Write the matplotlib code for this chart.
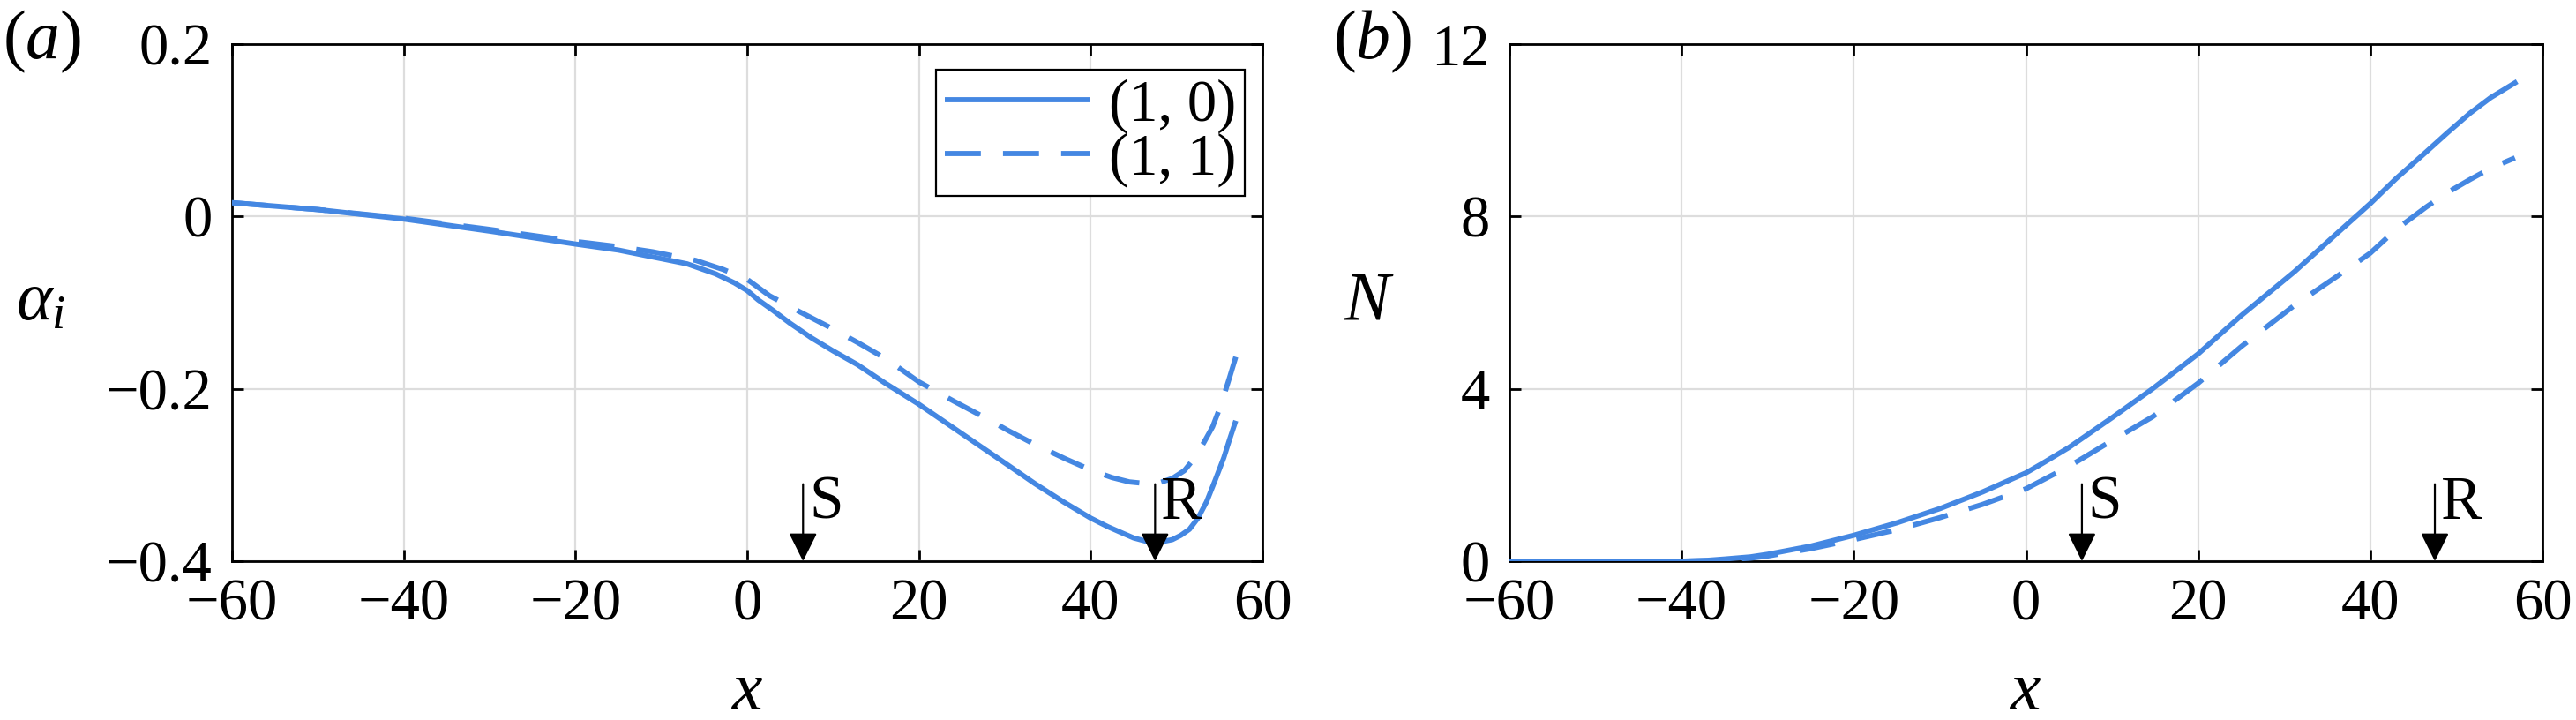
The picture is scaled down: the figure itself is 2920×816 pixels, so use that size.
import matplotlib
matplotlib.use("Agg")
import matplotlib.pyplot as plt

plt.rcParams['font.family'] = ['Liberation Serif', 'DejaVu Serif']
plt.rcParams['mathtext.fontset'] = 'custom'
plt.rcParams['mathtext.rm'] = 'Liberation Serif'
plt.rcParams['mathtext.it'] = 'Liberation Serif:italic'
plt.rcParams['mathtext.bf'] = 'Liberation Serif:bold'

# ---- data: panel (a) growth rate alpha_i ----
x_a10 = [-60, -50, -40, -30, -20, -15, -11, -7, -3.7, -1.5, 0, 1.3, 3, 5, 7.5, 10, 12.85, 16, 20,
         25, 30, 33.5, 36.8, 40, 42, 43.6, 45, 46.5, 48, 49.5, 50.5, 51.5, 52.5, 53.5, 54.5,
         55.5, 56.2, 56.9]
alpha_10 = [0.016, 0.008, -0.003, -0.017, -0.032, -0.039, -0.047, -0.055, -0.0665, -0.077,
            -0.086, -0.097, -0.109, -0.124, -0.141, -0.156, -0.172, -0.193, -0.218,
            -0.252, -0.286, -0.310, -0.331, -0.350, -0.360, -0.367, -0.373, -0.377, -0.378,
            -0.375, -0.370, -0.363, -0.350, -0.331, -0.306, -0.280, -0.258, -0.237]
x_a11 = [-60, -50, -40, -30, -20, -15, -11, -6, -2.8, 0, 2.6, 6, 9.5, 13, 16.3, 20, 24, 27.6,
         30.5, 33.4, 37, 40.2, 42.5, 44.5, 46.5, 48, 49.5, 50.9, 52.2, 53.2, 54.2, 55.2,
         56.2, 56.9]
alpha_11 = [0.016, 0.008, -0.002, -0.015, -0.029, -0.035, -0.041, -0.051, -0.0615, -0.073,
            -0.092, -0.110, -0.128, -0.147, -0.166, -0.192, -0.214, -0.233,
            -0.249, -0.264, -0.281, -0.295, -0.303, -0.308, -0.310, -0.309, -0.304, -0.295,
            -0.279, -0.262, -0.244, -0.218, -0.186, -0.163]

# ---- data: panel (b) N factor ----
x_b10 = [-60, -50, -40, -37, -35, -32, -30, -25, -20, -15, -10, -5, 0, 2, 5, 10, 14.7, 20, 25,
         31.2, 36.2, 40, 43, 46.5, 49, 51.6, 54, 56.8]
N_10 = [0, 0, 0, 0.02, 0.05, 0.10, 0.16, 0.35, 0.60, 0.89, 1.22, 1.61, 2.05, 2.28, 2.64, 3.33,
        4.00, 4.81, 5.70, 6.72, 7.62, 8.30, 8.88, 9.50, 9.95, 10.40, 10.76, 11.10]
x_b11 = [-60, -50, -40, -37, -35, -32, -30, -25, -20, -15, -10, -5, 0, 5, 10, 14.7, 20, 25,
         31.2, 36.2, 40, 43, 46.5, 49, 51.6, 54, 56.8]
N_11 = [0, 0, 0, 0.01, 0.03, 0.07, 0.12, 0.29, 0.50, 0.73, 1.01, 1.32, 1.68, 2.20, 2.80, 3.35,
        4.13, 4.98, 5.94, 6.62, 7.15, 7.70, 8.22, 8.56, 8.86, 9.12, 9.36]

legend_labels = ['(1, 0)', '(1, 1)']
x_ticks = [-60, -40, -20, 0, 20, 40, 60]
x_ticklabels = ['\u221260', '\u221240', '\u221220', '0', '20', '40', '60']
a_ticks = [0.2, 0, -0.2, -0.4]
a_ticklabels = ['0.2', '0', '\u22120.2', '\u22120.4']
b_ticks = [0, 4, 8, 12]
x_S, x_R = 6.5, 47.5

color = '#4487e2'
FS = 48      # tick labels / legend
LFS = 56     # axis labels and panel labels

fig = plt.figure(figsize=(29.2, 8.16), dpi=100)
axA = fig.add_axes([263/2920, 180/816, 1168/2920, 586/816])
axB = fig.add_axes([1711/2920, 180/816, 1171/2920, 586/816])

for ax in (axA, axB):
    ax.set_xlim(-60, 60)
    ax.set_xticks(x_ticks)
    ax.set_xticklabels(x_ticklabels)
    ax.grid(True, color='#dddddd', lw=1.6, zorder=0)
    ax.set_axisbelow(True)
    ax.tick_params(direction='in', length=9.5, width=2.0, top=True, right=True,
                   labelsize=FS, pad=16)
    ax.tick_params(axis='x', pad=14)
    for s in ax.spines.values():
        s.set_linewidth(2.0)
    ax.set_xlabel('$x$', fontsize=LFS, labelpad=24)

# panel a
l1, = axA.plot(x_a10, alpha_10, color=color, lw=4.2, solid_joinstyle='round',
               solid_capstyle='butt', label=legend_labels[0], zorder=3)
l2, = axA.plot(x_a11, alpha_11, color=color, lw=4.2, ls=(0, (7, 4.3)),
               label=legend_labels[1], zorder=3)
axA.set_ylim(-0.4, 0.2)
axA.set_yticks(a_ticks)
axA.set_yticklabels(a_ticklabels)
axA.set_ylabel(r'$\alpha_i$', fontsize=LFS, rotation=0, va='center', ha='center')
leg = axA.legend(handles=[l1, l2], loc='upper right', bbox_to_anchor=(0.983, 0.9505),
                 borderaxespad=0, fontsize=FS, frameon=True, fancybox=False,
                 framealpha=1, edgecolor='black', handlelength=2.46, handletextpad=0.33,
                 borderpad=0.15, labelspacing=0.0)
leg.get_frame().set_linewidth(1.6)

# panel b
axB.plot(x_b10, N_10, color=color, lw=4.2, solid_joinstyle='round', zorder=3)
axB.plot(x_b11, N_11, color=color, lw=4.2, ls=(0, (7, 4.3)), zorder=3)
axB.set_ylim(0, 12)
axB.set_yticks(b_ticks)
axB.set_ylabel('$N$', fontsize=LFS, rotation=0, va='center', ha='center')

# y-label centres (axes-fraction coordinates)
axA.yaxis.set_label_coords((46 - 263) / 1168, (816 - 343 - 180) / 586)
axB.yaxis.set_label_coords((1552 - 1711) / 1171, (816 - 343 - 180) / 586)

# S / R arrows
for ax in (axA, axB):
    for xv, lab in ((x_S, 'S'), (x_R, 'R')):
        ax.annotate('', xy=(xv, 0), xycoords=('data', 'axes fraction'),
                    xytext=(xv, 0.149), textcoords=('data', 'axes fraction'),
                    arrowprops=dict(arrowstyle='-|>,head_length=0.4,head_width=0.2',
                                    color='black', lw=1.6, mutation_scale=50,
                                    shrinkA=0, shrinkB=0), zorder=5)
        ax.text(xv + 0.7, 0.082, lab, transform=ax.get_xaxis_transform(),
                fontsize=50, ha='left', va='baseline', zorder=5)

# panel labels
fig.text(3/2920, 1 - 47/816, '($a$)', fontsize=LFS, ha='left', va='center')
fig.text(1511/2920, 1 - 47/816, '($b$)', fontsize=LFS, ha='left', va='center')

fig.savefig('out.png', dpi=100)
